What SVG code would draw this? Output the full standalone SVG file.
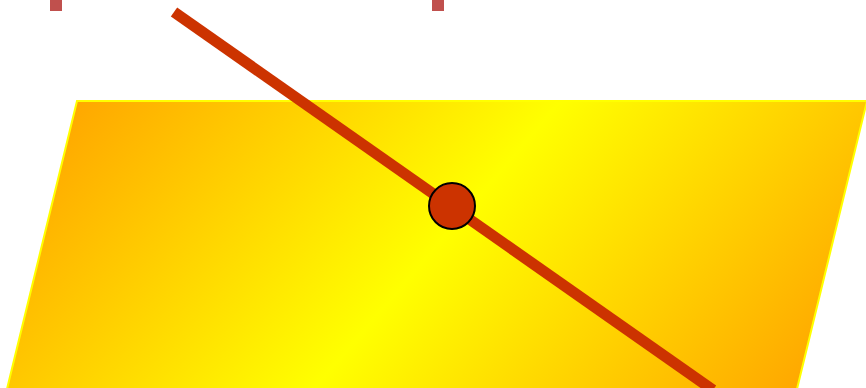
<svg xmlns="http://www.w3.org/2000/svg" width="866" height="388" viewBox="0 0 866 388">
<defs>
<linearGradient id="g" gradientUnits="userSpaceOnUse" x1="188" y1="-27" x2="744" y2="450">
<stop offset="0" stop-color="#FFA800"/>
<stop offset="0.5" stop-color="#FFFF00"/>
<stop offset="1" stop-color="#FFA800"/>
</linearGradient>
</defs>
<style>.mark{fill:#C0504D}</style>
<rect width="866" height="388" fill="#FFFFFF"/>
<g id="marks">
<rect class="mark" x="50" y="0" width="12" height="11"/>
<rect class="mark" x="432" y="0" width="12" height="11"/>
</g>
<g id="plane">
<polygon points="77,101 867,101 797,389 7,389" fill="url(#g)" stroke="#FFFF00" stroke-width="2"/>
</g>
<g id="connectors">
<line x1="174" y1="12" x2="713" y2="390" stroke="#CC3300" stroke-width="11"/>
</g>
<g id="point">
<circle cx="452" cy="206" r="23" fill="#CC3300" stroke="#000000" stroke-width="2"/>
</g>
</svg>
